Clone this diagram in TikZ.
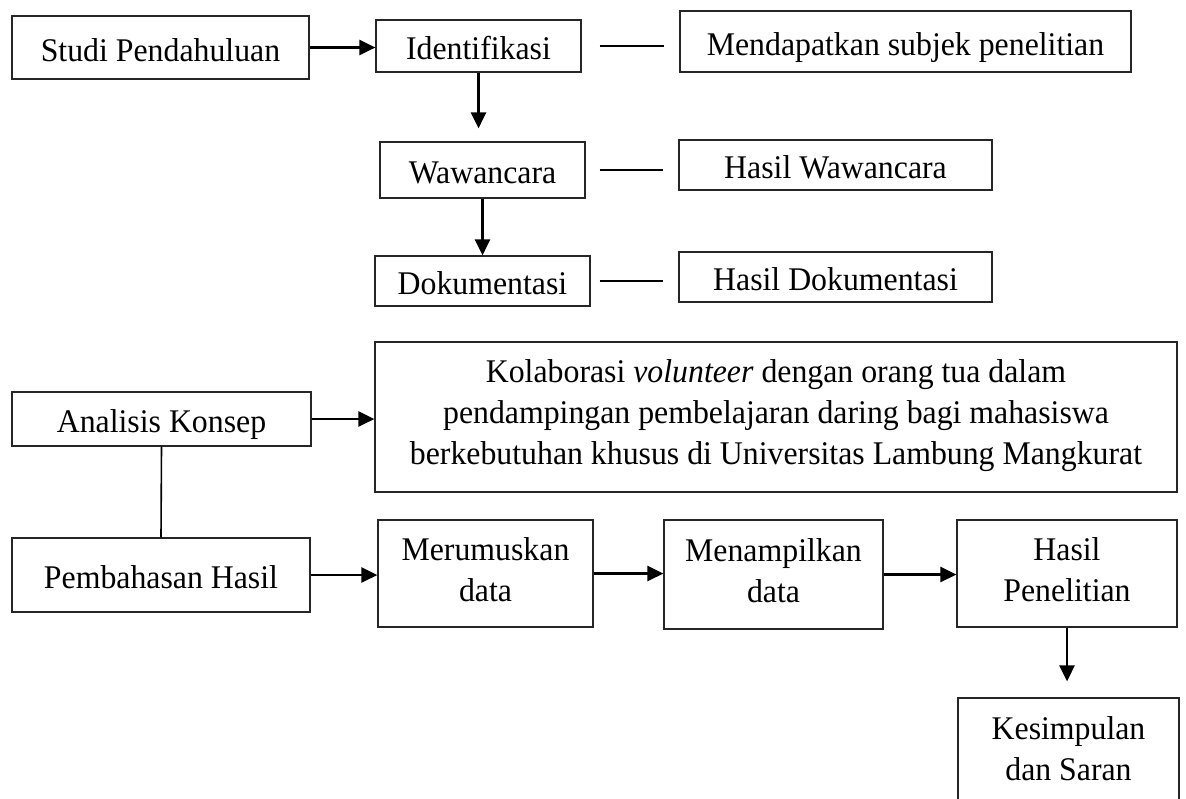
\documentclass[tikz,border=0pt]{standalone}
\usepackage{fontspec}
\usepackage{graphicx}
\setmainfont{Liberation Serif}
\usetikzlibrary{arrows.meta}
\newcommand{\stxt}[2][-2.75pt]{\raisebox{#1}[\height][\depth]{\scalebox{1}[1.04]{\begin{tabular}{@{}c@{}}#2\end{tabular}}}}
\begin{document}
\begin{tikzpicture}[x=0.5pt,y=-0.5pt,
  box/.style={draw=black!85,line width=0.6pt,inner sep=0pt,
    font=\fontsize{15.9}{19.7}\selectfont},
  arr/.style={line width=1.3pt,-{Triangle[length=8pt,width=7.5pt]}},
  link/.style={line width=1.1pt},
  vlink/.style={line width=0.8pt}]
\clip (0,0) rectangle (1186,798);
\useasboundingbox (0,0) rectangle (1186,798);
\fill[white] (0,0) rectangle (1186,798);
% top part
\node[box,minimum width=148.5pt,minimum height=31.5pt] (studi) at (160.5,47.5) {\stxt{Studi Pendahuluan}};
\node[box,minimum width=102.5pt,minimum height=26pt] (ident) at (478.5,46) {\stxt{Identifikasi}};
\node[box,minimum width=102.5pt,minimum height=28pt] (wawan) at (482.5,170) {\stxt{Wawancara}};
\node[box,minimum width=107.5pt,minimum height=25pt] (doku) at (482.5,281) {\stxt{Dokumentasi}};
\node[box,minimum width=225.5pt,minimum height=30.5pt] (mendapat) at (905.5,41.5) {\stxt{Mendapatkan subjek penelitian}};
\node[box,minimum width=156.5pt,minimum height=25pt] (hwawan) at (835.5,165) {\stxt{Hasil Wawancara}};
\node[box,minimum width=156.5pt,minimum height=25pt] (hdoku) at (835.5,277) {\stxt{Hasil Dokumentasi}};
% lower part
\node[box,minimum width=149.5pt,minimum height=27pt] (analisis) at (161.5,419) {\stxt{Analisis Konsep}};
\node[box,minimum width=401pt,minimum height=75pt] (kolab) at (776,417)
  {\stxt[0.7pt]{Kolaborasi \textit{volunteer} dengan orang tua dalam\\
   pendampingan pembelajaran daring bagi mahasiswa\\
   berkebutuhan khusus di Universitas Lambung Mangkurat}};
\node[box,minimum width=149pt,minimum height=37pt] (pembahasan) at (161,575) {\stxt{Pembahasan Hasil}};
\node[box,minimum width=107.5pt,minimum height=53.5pt] (merumus) at (485.5,573.5) {\stxt[0.5pt]{Merumuskan\\data}};
\node[box,minimum width=109.5pt,minimum height=54.5pt] (menampil) at (773.5,574.5) {\stxt[0.5pt]{Menampilkan\\data}};
\node[box,minimum width=110pt,minimum height=53.5pt] (hasilpen) at (1067,573.5) {\stxt[0.5pt]{Hasil\\Penelitian}};
\node[box,minimum width=110.5pt,minimum height=54pt] (kesimp) at (1068.5,752) {\stxt[0pt]{Kesimpulan\\dan Saran}};
% connectors
\draw[arr] (studi.east) -- (studi.east -| ident.west);
\draw[arr,shorten >=6.5pt] (ident.south) -- (ident.south |- wawan.north);
\draw[arr] (wawan.south) -- (wawan.south |- doku.north);
\draw[link,shorten <=9pt,shorten >=7.5pt] (ident.east) -- (ident.east -| mendapat.west);
\draw[link,shorten <=7pt,shorten >=7.5pt] (wawan.east) -- (wawan.east -| hwawan.west);
\draw[link,shorten <=4.5pt,shorten >=7.5pt] (doku.east) -- (doku.east -| hdoku.west);
\draw[arr] (analisis.east) -- (analisis.east -| kolab.west);
\draw[vlink] (analisis.south) -- (pembahasan.north);
\draw[arr] (pembahasan.east) -- (pembahasan.east -| merumus.west);
\draw[arr] (merumus.east) -- (merumus.east -| menampil.west);
\draw[arr] (menampil.east) -- (menampil.east -| hasilpen.west);
\draw[arr,shorten >=8pt] (hasilpen.south) -- (hasilpen.south |- kesimp.north);
\end{tikzpicture}
\end{document}
